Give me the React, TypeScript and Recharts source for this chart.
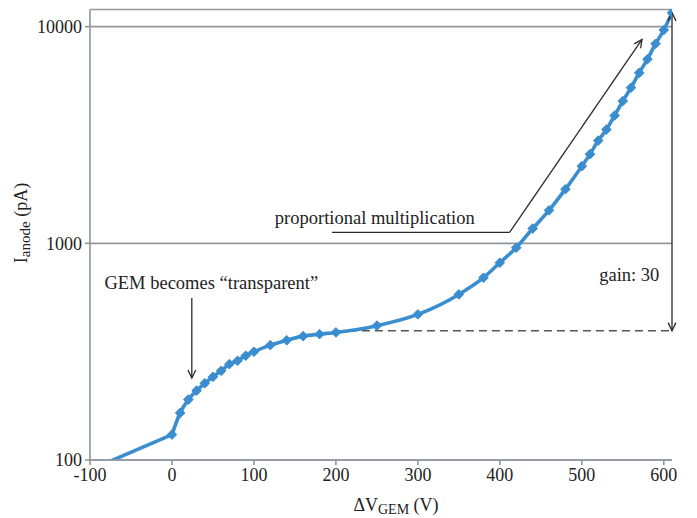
import React from "react";
import {
  LineChart,
  Line,
  XAxis,
  YAxis,
  CartesianGrid,
  ReferenceLine,
  ReferenceDot,
} from "recharts";

// ΔV_GEM (V) and anode current (pA)
const voltage = [
  -100, 0, 10, 20, 30, 40, 50, 60, 70, 80, 90, 100, 120, 140, 160, 180, 200, 250, 300, 350, 380,
  400, 420, 440, 460, 480, 500, 510, 520, 530, 540, 550, 560, 570, 580, 590, 600, 610,
];
const current = [
  90, 131, 165, 190, 209, 226, 242, 258, 277, 287, 303, 316, 339, 357, 373, 381, 388, 417, 470, 581,
  694, 814, 955, 1170, 1420, 1778, 2270, 2580, 2980, 3350, 3890, 4535, 5230, 6120, 7070, 8340, 9650,
  11590,
];
const xTicks = [-100, 0, 100, 200, 300, 400, 500, 600];
const yTicks = [100, 1000, 10000];

const plateau = 395;
const gainTop = 11590;

const data = voltage.map((v, i) => ({ v, i: current[i] }));
// first point sits below the axis: straight lead-in, then the smoothed measured curve
const leadIn = data.slice(0, 2);
const measured = data.slice(1);

const FONT = "'Liberation Serif', 'Times New Roman', serif";
const AXIS = "#8f979e";
const BLUE = "#3a8ed0";
const INK = "#2a2a2a";

const Diamond = (props: any) => {
  const { cx, cy, index } = props;
  if (cx == null || cy == null) return <g key={index} />;
  const r = 4.8;
  return (
    <path
      key={index}
      d={`M${cx},${cy - r}L${cx + r},${cy}L${cx},${cy + r}L${cx - r},${cy}Z`}
      fill={BLUE}
      stroke={BLUE}
    />
  );
};

// open "V" arrowhead at (x2,y2) pointing away from (x1,y1)
const head = (x1: number, y1: number, x2: number, y2: number) => {
  const a = Math.atan2(y2 - y1, x2 - x1);
  const len = 9;
  const w = 0.45;
  const p1 = [x2 - len * Math.cos(a - w), y2 - len * Math.sin(a - w)];
  const p2 = [x2 - len * Math.cos(a + w), y2 - len * Math.sin(a + w)];
  return `M${p1[0]},${p1[1]}L${x2},${y2}L${p2[0]},${p2[1]}`;
};

const arrow = (start: boolean, end: boolean) => (props: any) => {
  const { x1, y1, x2, y2 } = props;
  return (
    <g>
      <line x1={x1} y1={y1} x2={x2} y2={y2} stroke={INK} strokeWidth={1.3} />
      {end && <path d={head(x1, y1, x2, y2)} fill="none" stroke={INK} strokeWidth={1.3} />}
      {start && <path d={head(x2, y2, x1, y1)} fill="none" stroke={INK} strokeWidth={1.3} />}
    </g>
  );
};

const note = (text: string, anchor: "start" | "middle" | "end") => (props: any) => (
  <text
    x={props.cx}
    y={props.cy}
    textAnchor={anchor}
    dominantBaseline="central"
    fontFamily={FONT}
    fontSize={18.5}
    fill="#222"
  >
    {text}
  </text>
);

export default function App() {
  return (
    <div style={{ position: "absolute", left: 0, top: 0, background: "#fff" }}>
      <LineChart
        width={697}
        height={518}
        margin={{ top: 9.5, right: 25, bottom: 28, left: 30 }}
      >
        <CartesianGrid vertical={false} stroke={AXIS} strokeWidth={1.6} strokeDasharray="" />
        <XAxis
          dataKey="v"
          type="number"
          domain={[-100, 610]}
          ticks={xTicks}
          interval={0}
          allowDataOverflow
          height={30}
          stroke={AXIS}
          strokeWidth={1.6}
          tickSize={5}
          tickMargin={3}
          tick={{ fontSize: 18, fontFamily: FONT, fill: "#222" }}
          label={{
            content: () => (
              <text x={396} y={505} textAnchor="middle" dominantBaseline="central" fontFamily={FONT} fontSize={18} fill="#222">
                ΔV
                <tspan fontSize={14} dy={4}>GEM</tspan>
                <tspan dy={-4}> (V)</tspan>
              </text>
            ),
          }}
        />
        <YAxis
          scale="log"
          type="number"
          domain={[100, 12000]}
          ticks={yTicks}
          interval={0}
          allowDataOverflow
          width={60}
          stroke={AXIS}
          strokeWidth={1.6}
          tickSize={5}
          tickMargin={3}
          tick={{ fontSize: 18, fontFamily: FONT, fill: "#222" }}
          label={{
            content: () => (
              <text
                x={21}
                y={223}
                transform="rotate(-90 21 223)"
                textAnchor="middle"
                dominantBaseline="central"
                fontFamily={FONT}
                fontSize={18}
                fill="#222"
              >
                I
                <tspan fontSize={15} dy={4}>anode</tspan>
                <tspan dy={-4}> (pA)</tspan>
              </text>
            ),
          }}
        />
        <ReferenceLine
          segment={[{ x: 200, y: plateau }, { x: 610, y: plateau }]}
          stroke="#555"
          strokeWidth={1.6}
          strokeDasharray="8 5"
          ifOverflow="visible"
        />
        <Line
          data={leadIn}
          dataKey="i"
          type="linear"
          stroke={BLUE}
          strokeWidth={3.6}
          dot={false}
          activeDot={false}
          isAnimationActive={false}
        />
        <Line
          data={measured}
          dataKey="i"
          type="monotone"
          stroke={BLUE}
          strokeWidth={3.6}
          dot={Diamond}
          activeDot={false}
          isAnimationActive={false}
        />
        <ReferenceLine
          segment={[{ x: 610, y: plateau }, { x: 610, y: gainTop }]}
          shape={arrow(true, true)}
          ifOverflow="visible"
        />
        <ReferenceLine
          segment={[{ x: 24.2, y: 559 }, { x: 24.2, y: 239 }]}
          shape={arrow(false, true)}
          ifOverflow="visible"
        />
        <ReferenceLine
          segment={[{ x: 195.2, y: 1124 }, { x: 411.9, y: 1124 }]}
          shape={arrow(false, false)}
          ifOverflow="visible"
        />
        <ReferenceLine
          segment={[{ x: 411.9, y: 1124 }, { x: 573.4, y: 8737 }]}
          shape={arrow(false, true)}
          ifOverflow="visible"
        />
        <ReferenceDot x={247.4} y={1309} shape={note("proportional multiplication", "middle")} ifOverflow="visible" />
        <ReferenceDot x={48} y={656} shape={note("GEM becomes \u201ctransparent\u201d", "middle")} ifOverflow="visible" />
        <ReferenceDot x={594.6} y={714} shape={note("gain: 30", "end")} ifOverflow="visible" />
      </LineChart>
    </div>
  );
}
